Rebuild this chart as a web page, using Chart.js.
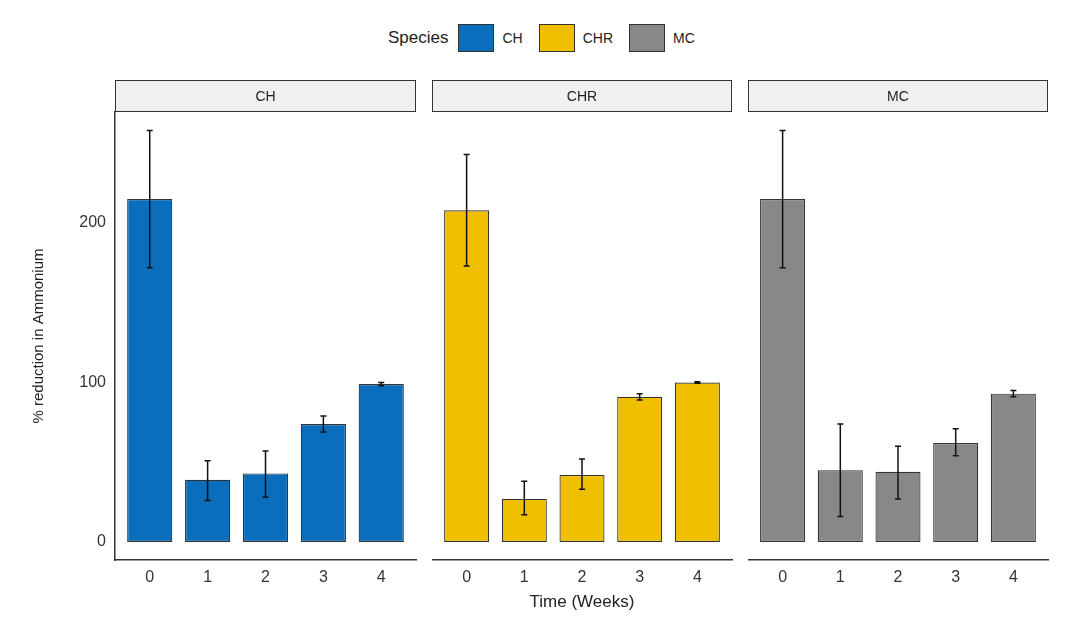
<!DOCTYPE html>
<html>
<head>
<meta charset="utf-8">
<script src="https://cdn.jsdelivr.net/npm/chart.js@4/dist/chart.umd.min.js"></script>
<style>
body{margin:0;background:#fff;font-family:"Liberation Sans",Arial,sans-serif;}
#wrap{position:relative;width:1074px;height:633px;}
canvas{position:absolute;top:0;}
#legend{position:absolute;top:24px;left:388px;display:flex;align-items:center;font-size:17px;color:#222;}
#legend span.box{display:inline-block;width:34px;height:26px;border:1px solid #333;margin:0 8px 0 10px;}
#legend span.lab{font-size:14px;margin-right:6px;}
#xtitle{position:absolute;top:592px;left:432px;width:300px;text-align:center;font-size:17px;color:#222;}
</style>
</head>
<body>
<div id="wrap">
  <div id="legend">Species
    <span class="box" style="background:#0a6ebd"></span><span class="lab">CH</span>
    <span class="box" style="background:#f0c000"></span><span class="lab">CHR</span>
    <span class="box" style="background:#888888"></span><span class="lab">MC</span>
  </div>
  <canvas id="c0" width="418" height="633" style="left:0;width:418px;height:633px"></canvas>
  <canvas id="c1" width="302" height="633" style="left:432px;width:302px;height:633px"></canvas>
  <canvas id="c2" width="302" height="633" style="left:748px;width:302px;height:633px"></canvas>
  <div id="xtitle">Time (Weeks)</div>
</div>
<script>
// données
const weeks = [0, 1, 2, 3, 4];
const species = ['CH', 'CHR', 'MC'];
const colors = ['#0a6ebd', '#f0c000', '#888888'];
const meanCH = [215, 39, 43, 74, 99];
const lowCH = [172, 26, 28, 69, 98];
const highCH = [258, 51, 57, 79, 100];
const meanCHR = [208, 27, 42, 91, 100];
const lowCHR = [173, 17, 33, 89, 99.5];
const highCHR = [243, 38, 52, 93, 100.5];
const meanMC = [215, 45, 44, 62, 93];
const lowMC = [172, 16, 27, 54, 91];
const highMC = [258, 74, 60, 71, 95];
const yTicks = [0, 100, 200];

const means = [meanCH, meanCHR, meanMC];
const lows = [lowCH, lowCHR, lowMC];
const highs = [highCH, highCHR, highMC];

const panelPlugin = {
    id: 'panel',
    afterDatasetsDraw(chart, args, opts) {
        const ctx = chart.ctx, a = chart.chartArea;
        const x = chart.scales.x, y = chart.scales.y;
        ctx.save();
        // barres d'erreur
        ctx.strokeStyle = '#111';
        ctx.lineWidth = 1.5;
        opts.low.forEach(function (lo, i) {
            const px = x.getPixelForValue(weeks[i]);
            const p1 = y.getPixelForValue(lo), p2 = y.getPixelForValue(opts.high[i]);
            ctx.beginPath();
            ctx.moveTo(px, p1); ctx.lineTo(px, p2);
            ctx.moveTo(px - 3, p1); ctx.lineTo(px + 3, p1);
            ctx.moveTo(px - 3, p2); ctx.lineTo(px + 3, p2);
            ctx.stroke();
        });
        // bandeau du panneau
        ctx.fillStyle = '#f0f0f0';
        ctx.strokeStyle = '#333';
        ctx.lineWidth = 1;
        ctx.fillRect(a.left, 80, a.right - a.left, 32);
        ctx.strokeRect(a.left + 0.5, 80.5, a.right - a.left - 1, 31);
        ctx.fillStyle = '#222';
        ctx.font = '14px "Liberation Sans", Arial';
        ctx.textAlign = 'center';
        ctx.textBaseline = 'middle';
        ctx.fillText(opts.title, (a.left + a.right) / 2, 97);
        ctx.restore();
    }
};

species.forEach(function (sp, k) {
    const first = k === 0;
    new Chart(document.getElementById('c' + k), {
        type: 'bar',
        data: {
            datasets: [{
                data: weeks.map((w, i) => ({ x: w, y: means[k][i] })),
                backgroundColor: colors[k],
                borderColor: '#333',
                borderWidth: 1.2,
                borderSkipped: false,
                barPercentage: 0.78,
                categoryPercentage: 1
            }]
        },
        options: {
            responsive: false,
            animation: false,
            layout: { padding: { top: 112, right: 2, left: 0, bottom: 0 } },
            plugins: {
                legend: { display: false },
                tooltip: { enabled: false },
                panel: { title: sp, low: lows[k], high: highs[k] }
            },
            scales: {
                x: {
                    type: 'linear', min: -0.6, max: 4.6, offset: false,
                    afterBuildTicks: s => { s.ticks = weeks.map(v => ({ value: v })); },
                    afterFit: s => { s.height = 73; },
                    grid: { display: false, drawTicks: true, tickLength: 5, tickColor: '#333', offset: false },
                    border: { color: '#333', width: 1.5 },
                    ticks: { color: '#333', font: { size: 16 }, padding: 3 }
                },
                y: {
                    display: first,
                    min: -11.3, max: 269.6,
                    afterBuildTicks: s => { s.ticks = yTicks.map(v => ({ value: v })); },
                    afterFit: s => { if (first) s.width = 115; },
                    grid: { display: false, drawTicks: true, tickLength: 5, tickColor: '#333' },
                    border: { color: '#333', width: 1.5 },
                    ticks: { color: '#333', font: { size: 16 }, padding: 4 },
                    title: { display: true, text: '% reduction in Ammonium', color: '#222', font: { size: 15 }, padding: { top: 30, bottom: 0 } }
                }
            }
        },
        plugins: [panelPlugin]
    });
});
</script>
</body>
</html>
